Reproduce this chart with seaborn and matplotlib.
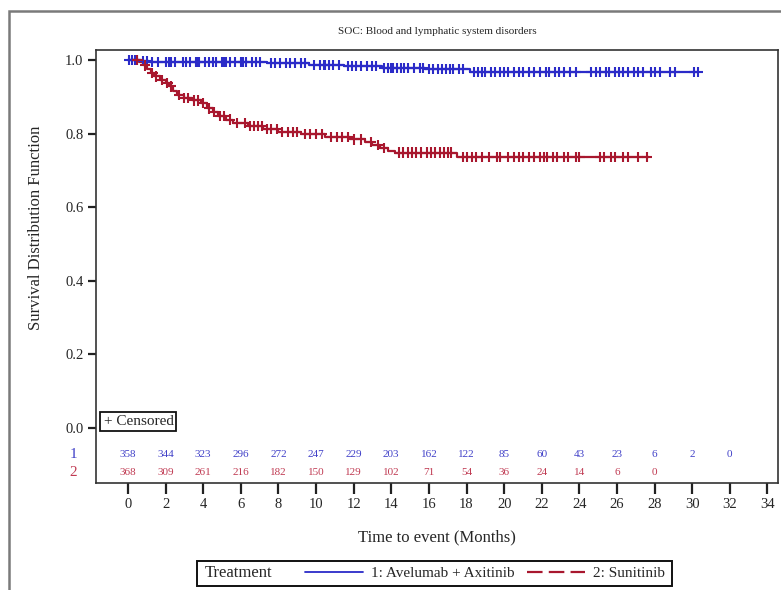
import numpy as np
import pandas as pd
import matplotlib
matplotlib.use('Agg')
import matplotlib.pyplot as plt
import seaborn as sns
from matplotlib.lines import Line2D
from matplotlib.patches import Rectangle

# -----------------------------------------------------------------------------
# Data
# -----------------------------------------------------------------------------
arms = ['1: Avelumab + Axitinib', '2: Sunitinib']

# step times (months) and survival after each step, last entry = end of follow-up
blue_times = [0.0, 0.7, 1.1, 7.4, 9.6, 11.5, 13.5, 15.8, 18.2, 30.3]
blue_surv = [1.0, 0.997, 0.994, 0.991, 0.987, 0.983, 0.979, 0.975, 0.968, 0.968]

red_times = [0.0, 0.6, 0.8, 1.0, 1.2, 1.4, 1.7, 2.0, 2.2, 2.4, 2.6, 3.0, 3.4, 3.9,
             4.2, 4.5, 4.8, 5.2, 5.6, 6.4, 7.2, 8.0, 9.2, 10.5, 11.8, 12.6, 13.0,
             13.4, 13.8, 14.2, 17.5, 27.7]
red_surv = [1.0, 0.995, 0.985, 0.975, 0.965, 0.955, 0.945, 0.938, 0.928, 0.915, 0.905,
            0.897, 0.890, 0.882, 0.868, 0.858, 0.848, 0.838, 0.829, 0.820, 0.812,
            0.805, 0.798, 0.790, 0.784, 0.776, 0.768, 0.760, 0.752, 0.748, 0.737, 0.737]

# censoring times
blue_cens = [0.05, 0.2, 0.35, 0.5, 0.8, 1.0, 1.3, 1.6, 2.0, 2.2, 2.3, 2.5, 2.9, 3.1,
             3.3, 3.6, 3.7, 3.8, 4.1, 4.3, 4.5, 4.7, 5.0, 5.1, 5.2, 5.4, 5.7, 6.0,
             6.1, 6.3, 6.6, 6.8, 7.0, 7.6, 7.8, 8.1, 8.4, 8.6, 8.9, 9.2, 9.4, 9.9,
             10.2, 10.4, 10.5, 10.7, 10.9, 11.2, 11.7, 11.9, 12.1, 12.4, 12.7, 13.0,
             13.2, 13.6, 13.8, 14.0, 14.1, 14.3, 14.5, 14.7, 14.9, 15.2, 15.5, 15.7,
             16.0, 16.2, 16.5, 16.7, 16.9, 17.1, 17.3, 17.6, 17.8, 18.4, 18.6, 18.8,
             19.0, 19.3, 19.5, 19.8, 20.0, 20.2, 20.5, 20.8, 21.0, 21.3, 21.6, 21.9,
             22.2, 22.4, 22.7, 22.9, 23.2, 23.5, 23.8, 24.6, 24.9, 25.1, 25.4, 25.6,
             25.9, 26.1, 26.3, 26.6, 26.9, 27.1, 27.4, 27.8, 28.0, 28.3, 28.8, 29.1,
             30.1, 30.3]
red_cens = [0.5, 0.9, 1.3, 1.5, 1.8, 2.1, 2.3, 2.7, 3.0, 3.2, 3.5, 3.7, 4.0, 4.3,
            4.6, 4.9, 5.1, 5.4, 5.8, 6.2, 6.5, 6.7, 6.9, 7.1, 7.4, 7.6, 7.9, 8.2,
            8.5, 8.8, 9.0, 9.4, 9.7, 10.0, 10.3, 10.8, 11.1, 11.4, 11.7, 12.0, 12.4,
            12.9, 13.3, 13.6, 14.4, 14.6, 14.9, 15.1, 15.3, 15.6, 15.9, 16.1, 16.3,
            16.6, 16.8, 17.0, 17.2, 17.8, 18.0, 18.3, 18.5, 18.8, 19.2, 19.6, 19.8,
            20.2, 20.5, 20.8, 21.0, 21.3, 21.6, 21.9, 22.1, 22.3, 22.6, 22.8, 23.2,
            23.4, 23.8, 24.0, 25.1, 25.3, 25.7, 25.9, 26.3, 26.6, 27.1, 27.6]

# numbers at risk
risk_times_blue = [0, 2, 4, 6, 8, 10, 12, 14, 16, 18, 20, 22, 24, 26, 28, 30, 32]
risk_blue = [358, 344, 323, 296, 272, 247, 229, 203, 162, 122, 85, 60, 43, 23, 6, 2, 0]
risk_times_red = [0, 2, 4, 6, 8, 10, 12, 14, 16, 18, 20, 22, 24, 26, 28]
risk_red = [368, 309, 261, 216, 182, 150, 129, 102, 71, 54, 36, 24, 14, 6, 0]

x_ticks = list(range(0, 36, 2))
y_ticks = [0.0, 0.2, 0.4, 0.6, 0.8, 1.0]

blue = '#2B2BC8'
red = '#A8172E'
blue_txt = '#4040C8'
red_txt = '#C03A52'

# -----------------------------------------------------------------------------
# Build tables
# -----------------------------------------------------------------------------
curve_df = pd.concat([
    pd.DataFrame({'time': blue_times, 'surv': blue_surv, 'arm': arms[0]}),
    pd.DataFrame({'time': red_times, 'surv': red_surv, 'arm': arms[1]}),
], ignore_index=True)


def surv_at(times, surv, t):
    idx = np.searchsorted(times, t, side='right') - 1
    return np.asarray(surv)[idx]


cens_df = pd.concat([
    pd.DataFrame({'time': blue_cens,
                  'surv': surv_at(blue_times, blue_surv, blue_cens), 'arm': arms[0]}),
    pd.DataFrame({'time': red_cens,
                  'surv': surv_at(red_times, red_surv, red_cens), 'arm': arms[1]}),
], ignore_index=True)

# -----------------------------------------------------------------------------
# Plot
# -----------------------------------------------------------------------------
sns.set_style('white')
plt.rcParams['font.family'] = ['Liberation Serif', 'DejaVu Serif']

fig = plt.figure(figsize=(7.81, 5.90), dpi=100)
ax = fig.add_axes([96 / 781, 1 - 483 / 590, 682 / 781, 433 / 590])

palette = {arms[0]: blue, arms[1]: red}
sns.lineplot(data=curve_df, x='time', y='surv', hue='arm', palette=palette,
             drawstyle='steps-post', estimator=None, sort=False, lw=1.6,
             legend=False, ax=ax)
sns.scatterplot(data=cens_df, x='time', y='surv', hue='arm', palette=palette,
                marker='+', s=55, linewidth=1.5, legend=False, ax=ax, zorder=3)

ax.set_xlim(-1.70, 34.56)
ax.set_ylim(-0.15, 1.027)
ax.set_xticks(x_ticks)
ax.set_yticks(y_ticks)
ax.set_yticklabels([f'{v:.1f}' for v in y_ticks])
ax.tick_params(axis='both', direction='out', length=6, width=1.6, color='#222222',
               labelsize=10.5, pad=3, left=True, bottom=True)
ax.tick_params(axis='x', length=8)
ax.set_xlabel('')
ax.set_ylabel('')
for sp in ax.spines.values():
    sp.set_color('#333333')
    sp.set_linewidth(1.2)

# at-risk table inside the axes
for t, n in zip(risk_times_blue, risk_blue):
    ax.text(t, -0.073, str(n), color=blue_txt, fontsize=8, ha='center', va='center')
for t, n in zip(risk_times_red, risk_red):
    ax.text(t, -0.122, str(n), color=red_txt, fontsize=8, ha='center', va='center')
ax.text(-0.028, -0.073, '1', color=blue_txt, fontsize=11, ha='right', va='center',
        transform=ax.get_yaxis_transform())
ax.text(-0.028, -0.122, '2', color=red_txt, fontsize=11, ha='right', va='center',
        transform=ax.get_yaxis_transform())

ax.text(0.011, 0.143, '+ Censored', transform=ax.transAxes, fontsize=11,
        ha='left', va='center',
        bbox=dict(boxstyle='square,pad=0.2', fc='white', ec='#111111', lw=1.3))

# titles
fig.text(437 / 781, 1 - 32 / 590, 'SOC: Blood and lymphatic system disorders',
         fontsize=8, ha='center', va='center')
fig.text(437 / 781, 1 - 537 / 590, 'Time to event (Months)', fontsize=12,
         ha='center', va='center')
fig.text(36 / 781, 1 - 228 / 590, 'Survival Distribution Function', fontsize=12,
         rotation=90, ha='center', va='center')

# outer frame (left and top edges visible)
fig.patches.append(Rectangle((8.5 / 781, -0.2), 1.2, 1.2 - 11 / 590,
                             transform=fig.transFigure, fill=False,
                             ec='#7a7a7a', lw=1.8))

# legend box at the bottom
fig.patches.append(Rectangle((197 / 781, 1 - 586 / 590), 475 / 781, 25 / 590,
                             transform=fig.transFigure, fill=False,
                             ec='#111111', lw=1.4))
fig.text(205 / 781, 1 - 573 / 590, 'Treatment', fontsize=12, ha='left', va='center')
handles = [Line2D([], [], color=blue, lw=1.3),
           Line2D([], [], color=red, lw=1.6, ls=(0, (7, 2.8)))]
fig.legend(handles, arms, ncol=2, frameon=False, loc='center',
           bbox_to_anchor=(485 / 781, 1 - 573 / 590), fontsize=11,
           handlelength=3.8, handletextpad=0.5, columnspacing=0.8)

fig.savefig('out.png', dpi=100)
